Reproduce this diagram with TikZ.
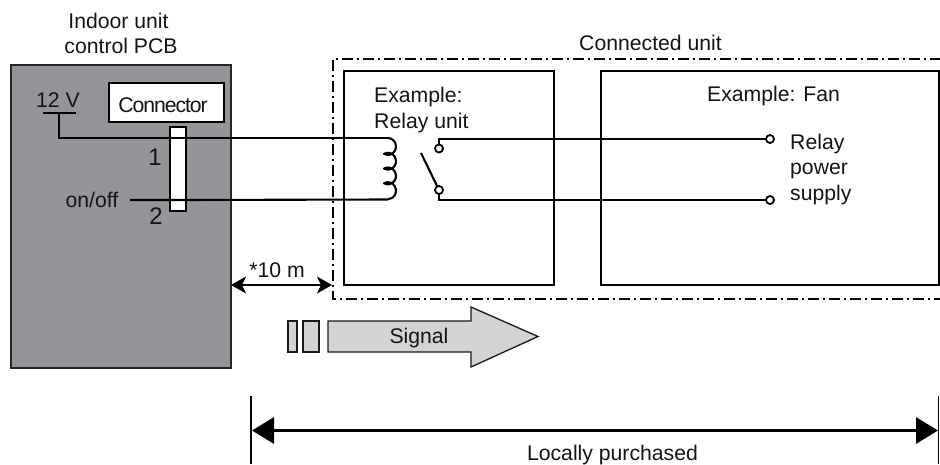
\documentclass[tikz,border=0pt]{standalone}
\usepackage{fontspec}
\setmainfont{Liberation Sans}
\usetikzlibrary{arrows.meta,calc}
\tikzset{
  x=1pt,y=-1pt,
  txt/.style={inner sep=0pt,anchor=base,font=\fontsize{21.2}{21.2}\selectfont,text=black!92},
  txtw/.style={txt,anchor=base west},
  box/.style={draw=black,line width=1.8pt,fill=white,inner sep=0pt,outer sep=0pt},
  wire/.style={line width=2.1pt,black,line join=miter},
  term/.style={circle,draw=black,line width=1.8pt,fill=white,minimum size=8pt,inner sep=0pt,outer sep=0pt},
  sigbox/.style={draw=black!90,line width=1.3pt,fill=sig,inner sep=0pt},
  dim/.style={line width=1.8pt,black,{Stealth[length=15pt,width=17pt,inset=4pt]}-{Stealth[length=15pt,width=17pt,inset=4pt]}},
  span/.style={line width=3.2pt,black,{Triangle[length=22pt,width=26pt]}-{Triangle[length=22pt,width=26pt]}},
  tick/.style={line width=1.8pt,black},
  frameline/.style={line width=1.8pt,black,dash pattern=on 11pt off 4pt on 2pt off 4pt}
}
\definecolor{pcbgray}{HTML}{939598}
\definecolor{sig}{HTML}{D1D3D4}
\begin{document}
\begin{tikzpicture}
\useasboundingbox (0,0) rectangle (940,464);
% PCB
\node[box,draw=black!85,fill=pcbgray,minimum width=220pt,minimum height=303pt] (pcb) at (121,216.5) {};
\node[box,minimum width=115pt,minimum height=39pt] (conn) at (166.5,102.5) {};
\node[txt,font=\fontsize{21.2}{21.2}\selectfont\addfontfeatures{LetterSpace=-5}] (connt) at (163,112) {Connector};
\node[box,minimum width=16pt,minimum height=84pt] (strip) at (178,169) {};
\node[txt] (pcbt) at (118.5,28) {Indoor unit};
\node[txt] (pcbt2) at (121,53) {control PCB};
\node[txt] (v12) at (58,107) {12 V};
\node[txt,font=\fontsize{24}{24}\selectfont] (n1) at (155,165) {1};
\node[txt,font=\fontsize{24}{24}\selectfont] (n2) at (156,224) {2};
\node[txt] (onoff) at (92,207) {on/off};
% connected unit frame
\coordinate (fr1) at (941,59);
\coordinate (fr2) at (333,59);
\coordinate (fr3) at (333,299);
\coordinate (fr4) at (941,299);
\draw[frameline] (fr1) -- (fr2) -- (fr3) -- (fr4);
\node[txt] (cu) at (650.5,50) {Connected unit};
% boxes
\node[box,minimum width=210pt,minimum height=214pt] (relay) at (449,178) {};
\node[box,minimum width=338pt,minimum height=214pt] (fan) at (770,178) {};
\node[txtw] (ex1) at (374,102) {Example:};
\node[txtw] (ex2) at (374,128) {Relay unit};
\node[txtw] (ex3) at (707,101) {Example: Fan};
\node[txtw] (rp1) at (790,149) {Relay};
\node[txtw] (rp2) at (790,174) {power};
\node[txtw] (rp3) at (790,200) {supply};
% wires
\coordinate (bar1) at (43,113);
\coordinate (bar2) at (76,113);
\coordinate (barm) at (59,113);
\coordinate (p1) at (178,138);
\coordinate (p2) at (178,200);
\coordinate (off) at (130,200);
\coordinate (coilA) at (388,138);
\coordinate (coilB) at (388,199.5);
\draw[wire] (bar1) -- (bar2);
\draw[wire] (barm) |- (p1) -- (coilA);
\draw[wire] (off) -- (p2) -- (coilB);
\draw[wire,line join=round] (coilA)
  arc[start angle=90,end angle=-120,x radius=8pt,y radius=8.5pt]
  arc[start angle=120,end angle=-120,x radius=8pt,y radius=8.5pt]
  arc[start angle=120,end angle=-120,x radius=8pt,y radius=8.5pt]
  arc[start angle=120,end angle=-90,x radius=8pt,y radius=8.5pt];
\node[term] (c1) at (439,148.5) {};
\node[term] (c2) at (439,190) {};
\node[term] (t1) at (770,139) {};
\node[term] (t2) at (770,200) {};
\draw[wire] (c1) |- (t1);
\draw[wire] (c2) |- (t2);
\coordinate (blade) at (421,153);
\draw[wire] (blade) -- (c2);
% 10 m dimension
\coordinate (d1) at (231,285);
\coordinate (d2) at (332,285);
\draw[dim] (d1) -- (d2);
\node[txt] (ten) at (277,277) {*10 m};
% signal
\node[sigbox,minimum width=9pt,minimum height=31pt] (s1) at (292.5,336.5) {};
\node[sigbox,minimum width=16pt,minimum height=31pt] (s2) at (311,336.5) {};
\draw[sigbox] (328,321) -- (471,321) -- (471,307) -- (538,336.5) -- (471,367) -- (471,352) -- (328,352) -- cycle;
\node[txt] (sigt) at (419,343) {Signal};
% locally purchased
\coordinate (lt1) at (251,396);
\coordinate (lb1) at (251,464);
\coordinate (lt2) at (938.5,396);
\coordinate (lb2) at (938.5,464);
\coordinate (la) at (252,430.5);
\coordinate (lz) at (938,430.5);
\draw[tick] (lt1) -- (lb1);
\draw[tick] (lt2) -- (lb2);
\draw[span] (la) -- (lz);
\node[txt] (lp) at (612.5,460) {Locally purchased};
\end{tikzpicture}
\end{document}
